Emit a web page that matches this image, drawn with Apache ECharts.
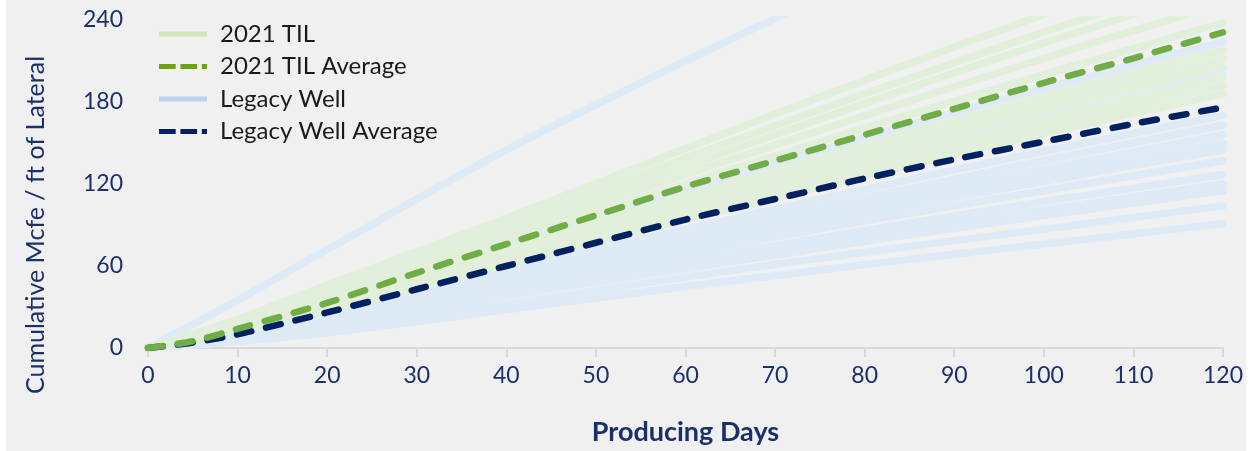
<!DOCTYPE html>
<html>
<head>
<meta charset="utf-8">
<script src="https://cdn.jsdelivr.net/npm/echarts@6/dist/echarts.min.js"></script>
<style>
  html, body { margin: 0; padding: 0; background: #ffffff; }
  #chart { position: absolute; left: 6px; top: 0; width: 1240px; height: 451px; }
</style>
</head>
<body>
<div id="chart"></div>
<script>
// ---- data ----
const X_TICKS = [0, 10, 20, 30, 40, 50, 60, 70, 80, 90, 100, 110, 120];
const Y_TICKS = [0, 60, 120, 180, 240];

const WELL_DAYS = [0, 10, 20, 40, 60, 80, 100, 120];

// 2021 TIL individual wells (cumulative Mcfe / ft)
const TIL_WELLS = [
  [0, 21, 46, 95, 146, 196, 244, 290],
  [0, 21, 45, 91, 139, 186, 231, 275],
  [0, 19, 42, 87, 133, 179, 223, 265],
  [0, 18, 40, 83, 127, 170, 212, 252],
  [0, 17, 38, 79, 120, 161, 200, 238],
  [0, 15, 35, 73, 111, 148, 184, 218],
  [0, 14, 33, 71, 108, 145, 179, 212],
  [0, 14, 32, 68, 104, 140, 174, 206],
  [0, 13, 30, 65, 100, 134, 167, 198],
  [0, 12, 29, 63, 97, 130, 162, 192],
  [0, 12, 28, 61, 94, 126, 157, 186]
];

// Legacy individual wells
const LEGACY_WELLS = [
  [0, 35, 72, 145, 210, 272, null, null],
  [0, 15, 36, 76, 116, 154, 190, 224],
  [0, 13, 32, 69, 106, 141, 174, 205],
  [0, 12, 30, 66, 101, 135, 168, 199],
  [0, 11, 26, 57, 87, 116, 144, 170],
  [0, 9, 23, 53, 83, 110, 137, 163],
  [0, 10, 24, 52, 80, 106, 131, 156],
  [0, 8, 21, 48, 76, 102, 126, 150],
  [0, 9, 22, 48, 73, 98, 122, 145],
  [0, 7, 19, 44, 69, 93, 115, 137],
  [0, 8, 19, 42, 64, 86, 107, 127],
  [0, 6, 16, 38, 61, 82, 101, 120],
  [0, 7, 17, 38, 58, 78, 97, 115],
  [0, 5, 13, 32, 52, 70, 87, 104],
  [0, 5, 11, 28, 45, 61, 76, 91]
];

const AVG_DAYS = [0, 5, 10, 20, 30, 40, 50, 60, 70, 80, 90, 100, 110, 120];
const TIL_AVG = [0, 5, 14, 33, 55, 76, 97, 118, 137, 156, 175, 194, 212, 231];
const LEGACY_AVG = [0, 4, 10, 26, 43, 60, 77, 94, 109, 124, 138, 151, 164, 176];

const NAMES = ['2021 TIL', '2021 TIL Average', 'Legacy Well', 'Legacy Well Average'];

// ---- styles ----
const C_TIL = '#e2efda';
const C_LEG = '#deeaf6';
const C_TIL_AVG = '#70ad47';
const C_LEG_AVG = '#002060';
const C_AXIS_TXT = '#1b2f6b';
const FONT = 'Lato, "Open Sans", sans-serif';
const DASH_ICON = 'path://M0,0h16.7v5h-16.7z M21.4,0h16.7v5h-16.7z M42.8,0h5.2v5h-5.2z';
const SOLID_ICON = 'path://M0,0h48v5h-48z';

function pairs(xs, ys) { return xs.map((x, i) => [x, ys[i]]); }

const series = [];
LEGACY_WELLS.forEach(w => series.push({
  name: NAMES[2], type: 'line', symbol: 'none', smooth: 0.3, silent: true,
  data: pairs(WELL_DAYS, w),
  lineStyle: { color: C_LEG, width: 7.5, cap: 'round' }, itemStyle: { color: C_LEG }
}));
TIL_WELLS.forEach(w => series.push({
  name: NAMES[0], type: 'line', symbol: 'none', smooth: 0.3, silent: true,
  data: pairs(WELL_DAYS, w),
  lineStyle: { color: C_TIL, width: 7.5, cap: 'round' }, itemStyle: { color: C_TIL }
}));
series.push({
  name: NAMES[3], type: 'line', symbol: 'none', smooth: 0.3, silent: true,
  data: pairs(AVG_DAYS, LEGACY_AVG),
  lineStyle: { color: C_LEG_AVG, width: 6.5, type: [15, 15], cap: 'round' }, itemStyle: { color: C_LEG_AVG }
});
series.push({
  name: NAMES[1], type: 'line', symbol: 'none', smooth: 0.3, silent: true,
  data: pairs(AVG_DAYS, TIL_AVG),
  lineStyle: { color: C_TIL_AVG, width: 6.5, type: [15, 15], cap: 'round' }, itemStyle: { color: C_TIL_AVG }
});

const chart = echarts.init(document.getElementById('chart'), null, { renderer: 'canvas' });
chart.setOption({
  animation: false,
  backgroundColor: '#f0f0f0',
  textStyle: { fontFamily: FONT },
  grid: { left: 142, right: 12, top: 20, bottom: 99, containLabel: false },
  legend: {
    orient: 'vertical', left: 153, top: 22, padding: 0,
    itemWidth: 48, itemHeight: 5, itemGap: 8.5,
    textStyle: { color: '#1a1a1a', fontSize: 24, fontFamily: FONT, lineHeight: 24, padding: [0, 0, 0, 8] },
    data: [
      { name: NAMES[0], icon: SOLID_ICON, itemStyle: { color: '#cde8b5' } },
      { name: NAMES[1], icon: DASH_ICON, itemStyle: { color: '#6fa30e' } },
      { name: NAMES[2], icon: SOLID_ICON, itemStyle: { color: '#bdd1ef' } },
      { name: NAMES[3], icon: DASH_ICON, itemStyle: { color: C_LEG_AVG } }
    ]
  },
  xAxis: {
    type: 'value', min: X_TICKS[0], max: X_TICKS[X_TICKS.length - 1], interval: X_TICKS[1] - X_TICKS[0],
    name: 'Producing Days', nameLocation: 'middle', nameGap: 71,
    nameTextStyle: { color: C_AXIS_TXT, fontSize: 27, fontWeight: 'bold', fontFamily: FONT },
    axisLine: { show: true, lineStyle: { color: '#d9d9d9', width: 2 } },
    axisTick: { show: true, length: 9, lineStyle: { color: '#d9d9d9', width: 2 } },
    axisLabel: { color: C_AXIS_TXT, fontSize: 23, margin: 16, fontFamily: FONT },
    splitLine: { show: false }
  },
  yAxis: {
    type: 'value', min: Y_TICKS[0], max: Y_TICKS[Y_TICKS.length - 1], interval: Y_TICKS[1] - Y_TICKS[0],
    name: 'Cumulative Mcfe / ft of Lateral', nameLocation: 'middle', nameRotate: 90, nameGap: 100,
    nameTextStyle: { color: C_AXIS_TXT, fontSize: 25, fontFamily: FONT, padding: [0, 82, 0, 0] },
    axisLine: { show: false }, axisTick: { show: false },
    axisLabel: { color: C_AXIS_TXT, fontSize: 23, margin: 25, fontFamily: FONT },
    splitLine: { show: false }
  },
  series: series
});
</script>
</body>
</html>
